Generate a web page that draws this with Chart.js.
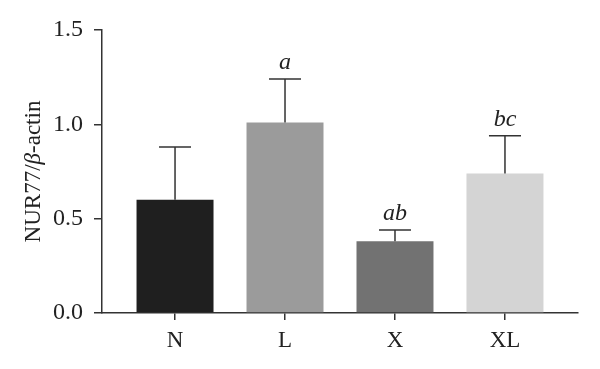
<!DOCTYPE html>
<html>
<head>
<meta charset="utf-8">
<script src="https://cdn.jsdelivr.net/npm/chart.js@4/dist/chart.umd.min.js"></script>
<style>
  body { margin: 0; background: #fff; }
  #wrap { width: 600px; height: 369px; }
</style>
</head>
<body>
<div id="wrap"><canvas id="myBarra"></canvas></div>
<script>
const categories = ["N", "L", "X", "XL"];
const means = [0.60, 1.01, 0.38, 0.74];
const errors = [0.28, 0.23, 0.06, 0.20];
const letters = ["", "a", "ab", "bc"];
const colors = ["#1f1f1f", "#9b9b9b", "#727272", "#d4d4d4"];
const yTicks = [0, 0.5, 1.0, 1.5];

const axisColor = "#333333";
const serif = "'Liberation Serif', 'Times New Roman', serif";

/* error bars + letters */
const errorBars = {
  id: "errorBars",
  afterDatasetsDraw(chart) {
    const { ctx, scales } = chart;
    const x = scales.x, y = scales.y;
    ctx.save();
    ctx.strokeStyle = axisColor;
    ctx.lineWidth = 1.5;
    means.forEach((m, i) => {
      const px = x.getPixelForValue(i);
      const top = y.getPixelForValue(m + errors[i]);
      const base = y.getPixelForValue(m);
      ctx.beginPath();
      ctx.moveTo(px, base);
      ctx.lineTo(px, top);
      ctx.moveTo(px - 16, top);
      ctx.lineTo(px + 16, top);
      ctx.stroke();
      if (letters[i]) {
        ctx.fillStyle = "#222";
        ctx.font = "italic 24px " + serif;
        ctx.textAlign = "center";
        ctx.textBaseline = "alphabetic";
        ctx.fillText(letters[i], px, top - 10);
      }
    });
    ctx.restore();
  },
};

/* y title with italic beta */
const yTitle = {
  id: "yTitle",
  afterDraw(chart) {
    const { ctx, chartArea } = chart;
    const parts = [
      ["NUR77/", "23px " + serif],
      ["\u03B2", "italic 23px " + serif],
      ["-actin", "23px " + serif],
    ];
    ctx.save();
    let total = 0;
    parts.forEach((p) => {
      ctx.font = p[1];
      total += ctx.measureText(p[0]).width;
    });
    ctx.translate(40, (chartArea.top + chartArea.bottom) / 2);
    ctx.rotate(-Math.PI / 2);
    ctx.fillStyle = "#222";
    ctx.textBaseline = "alphabetic";
    let cx = -total / 2;
    parts.forEach((p) => {
      ctx.font = p[1];
      ctx.fillText(p[0], cx, 0);
      cx += ctx.measureText(p[0]).width;
    });
    ctx.restore();
  },
};

const ctx1 = document.getElementById("myBarra").getContext("2d");

new Chart(ctx1, {
  type: "bar",
  data: {
    datasets: [
      {
        data: means.map((v, i) => ({ x: i, y: v })),
        backgroundColor: colors,
        borderWidth: 0,
        categoryPercentage: 1,
        barPercentage: 0.7,
      },
    ],
  },
  options: {
    responsive: true,
    maintainAspectRatio: false,
    animation: false,
    layout: { padding: { top: 30, right: 22, left: 0, bottom: 0 } },
    plugins: {
      legend: { display: false },
      tooltip: { enabled: false },
    },
    scales: {
      x: {
        type: "linear",
        offset: false,
        min: -0.664,
        max: 3.664,
        afterBuildTicks: (scale) => {
          scale.ticks = categories.map((c, i) => ({ value: i }));
        },
        afterFit: (scale) => {
          scale.height = 56;
        },
        grid: {
          offset: false,
          drawOnChartArea: false,
          color: axisColor,
          lineWidth: 1.5,
          tickLength: 7,
        },
        border: { color: axisColor, width: 1.5 },
        ticks: {
          color: "#222",
          font: { family: serif, size: 23 },
          padding: 7,
          maxRotation: 0,
          callback: (v) => categories[v],
        },
      },
      y: {
        min: 0,
        max: 1.5,
        afterBuildTicks: (scale) => {
          scale.ticks = yTicks.map((v) => ({ value: v }));
        },
        afterFit: (scale) => {
          scale.width = 102;
        },
        grid: {
          drawOnChartArea: false,
          color: axisColor,
          lineWidth: 1.5,
          tickLength: 8,
        },
        border: { color: axisColor, width: 1.5 },
        ticks: {
          color: "#222",
          font: { family: serif, size: 24 },
          padding: 11,
          callback: (v) => v.toFixed(1),
        },
      },
    },
  },
  plugins: [errorBars, yTitle],
});
</script>
</body>
</html>
